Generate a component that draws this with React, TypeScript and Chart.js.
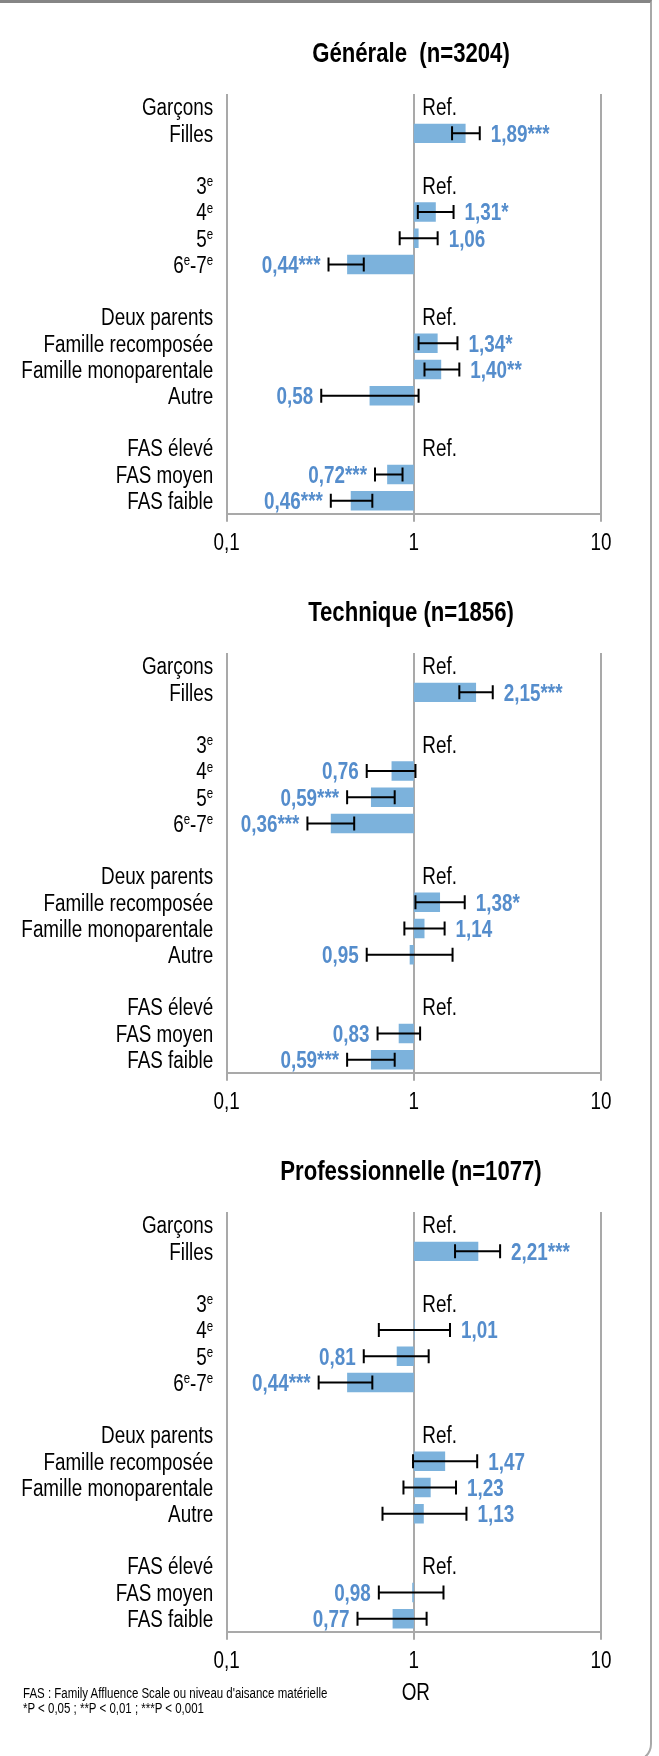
import React, { useEffect, useRef } from "react";
import { Chart, registerables } from "chart.js";

Chart.register(...registerables);

const FONT = '"Liberation Sans", Arial, sans-serif';
const SX = 0.82; // horizontal condensation of the reference's narrow typeface
const BAR_COLOR = "#7cb2dc";
const VALUE_COLOR = "#558dcc";
const GRID_COLOR = "#a9a9a9";

// ---- data ----
const categories = [
  "Garçons", "Filles", "",
  "3ᵉ", "4ᵉ", "5ᵉ", "6ᵉ-7ᵉ", "",
  "Deux parents", "Famille recomposée", "Famille monoparentale", "Autre", "",
  "FAS élevé", "FAS moyen", "FAS faible",
];
const referenceCategories = ["Garçons", "3ᵉ", "Deux parents", "FAS élevé"];
const referenceText = "Ref.";
const xTickValues = [0.1, 1, 10];
const axisTitle = "OR";
const footnotes = [
  "FAS : Family Affluence Scale ou niveau d'aisance matérielle",
  "*P < 0,05 ; **P < 0,01 ; ***P < 0,001",
];

const titleGenerale = "Générale  (n=3204)";
const orGenerale = [null, 1.89, null, null, 1.31, 1.06, 0.44, null, null, 1.34, 1.40, 0.58, null, null, 0.72, 0.46];
const lowGenerale = [null, 1.60, null, null, 1.05, 0.84, 0.35, null, null, 1.06, 1.14, 0.32, null, null, 0.62, 0.36];
const highGenerale = [null, 2.25, null, null, 1.63, 1.34, 0.54, null, null, 1.71, 1.75, 1.06, null, null, 0.87, 0.60];
const sigGenerale = ["", "***", "", "", "*", "", "***", "", "", "*", "**", "", "", "", "***", "***"];

const titleTechnique = "Technique (n=1856)";
const orTechnique = [null, 2.15, null, null, 0.76, 0.59, 0.36, null, null, 1.38, 1.14, 0.95, null, null, 0.83, 0.59];
const lowTechnique = [null, 1.75, null, null, 0.56, 0.44, 0.27, null, null, 1.02, 0.89, 0.56, null, null, 0.64, 0.44];
const highTechnique = [null, 2.64, null, null, 1.02, 0.79, 0.48, null, null, 1.87, 1.46, 1.61, null, null, 1.08, 0.79];
const sigTechnique = ["", "***", "", "", "", "***", "***", "", "", "*", "", "", "", "", "", "***"];

const titlePro = "Professionnelle (n=1077)";
const orPro = [null, 2.21, null, null, 1.01, 0.81, 0.44, null, null, 1.47, 1.23, 1.13, null, null, 0.98, 0.77];
const lowPro = [null, 1.66, null, null, 0.65, 0.54, 0.31, null, null, 0.99, 0.88, 0.68, null, null, 0.65, 0.50];
const highPro = [null, 2.89, null, null, 1.56, 1.20, 0.60, null, null, 2.18, 1.68, 1.91, null, null, 1.44, 1.17];
const sigPro = ["", "***", "", "", "", "", "***", "", "", "", "", "", "", "", "", ""];

type Panel = {
  title: string;
  or: (number | null)[];
  low: (number | null)[];
  high: (number | null)[];
  sig: string[];
  top: number;
  height: number;
  padBottom: number;
  showAxisTitle: boolean;
};

const panels: Panel[] = [
  { title: titleGenerale, or: orGenerale, low: lowGenerale, high: highGenerale, sig: sigGenerale, top: 0, height: 566, padBottom: 0.6, showAxisTitle: false },
  { title: titleTechnique, or: orTechnique, low: lowTechnique, high: highTechnique, sig: sigTechnique, top: 559, height: 566, padBottom: 0.6, showAxisTitle: false },
  { title: titlePro, or: orPro, low: lowPro, high: highPro, sig: sigPro, top: 1118, height: 600, padBottom: 34.6, showAxisTitle: true },
];

const fmt = (v: number, digits?: number) =>
  (digits === undefined ? String(v) : v.toFixed(digits)).replace(".", ",");

function textN(ctx: CanvasRenderingContext2D, text: string, x: number, y: number, align: CanvasTextAlign) {
  ctx.save();
  ctx.translate(x, y);
  ctx.scale(SX, 1);
  ctx.textAlign = align;
  ctx.fillText(text, 0, 0);
  ctx.restore();
}

function drawRichRight(ctx: CanvasRenderingContext2D, text: string, xRight: number, baseline: number, size: number) {
  // 'ᵉ' is rendered as a small raised "e"
  const parts: { t: string; sup: boolean }[] = [];
  for (const ch of text) {
    const sup = ch === "ᵉ";
    const t = sup ? "e" : ch;
    const last = parts[parts.length - 1];
    if (last && last.sup === sup) last.t += t;
    else parts.push({ t, sup });
  }
  const normalFont = `${size}px ${FONT}`;
  const supFont = `${Math.round(size * 0.6)}px ${FONT}`;
  let total = 0;
  for (const p of parts) {
    ctx.font = p.sup ? supFont : normalFont;
    total += ctx.measureText(p.t).width * SX;
  }
  let x = xRight - total;
  for (const p of parts) {
    ctx.font = p.sup ? supFont : normalFont;
    textN(ctx, p.t, x, p.sup ? baseline - size * 0.34 : baseline, "left");
    x += ctx.measureText(p.t).width * SX;
  }
}

function makeForestPlugin(panel: Panel) {
  return {
    id: "forest",
    afterDraw(chart: any) {
      const { ctx, chartArea, scales } = chart;
      const xs = scales.x;
      const ys = scales.y;
      ctx.save();
      ctx.textBaseline = "alphabetic";
      // title
      ctx.fillStyle = "#000";
      ctx.font = `bold 27px ${FONT}`;
      textN(ctx, panel.title, 411, 62, "center");
      // x tick labels (condensed), at the scale's own tick positions
      ctx.font = `23px ${FONT}`;
      ctx.textBaseline = "middle";
      xs.ticks.forEach((t: any) => {
        textN(ctx, fmt(t.value), xs.getPixelForValue(t.value), xs.top + 8 + 8 + 13.8, "center");
      });
      if (panel.showAxisTitle) {
        textN(ctx, axisTitle, (chartArea.left + chartArea.right) / 2 + 2, chartArea.bottom + 61.5, "center");
      }
      ctx.textBaseline = "alphabetic";
      const labelSize = 23;
      const x1 = xs.getPixelForValue(1);
      categories.forEach((cat, i) => {
        const yc = ys.getPixelForValue(i);
        const base = yc + labelSize * 0.36;
        ctx.fillStyle = "#000";
        if (cat) drawRichRight(ctx, cat, chartArea.left - 13.5, base, labelSize);
        if (referenceCategories.includes(cat)) {
          ctx.font = `${labelSize}px ${FONT}`;
          textN(ctx, referenceText, x1 + 8.5, base, "left");
        }
        const v = panel.or[i];
        const lo = panel.low[i];
        const hi = panel.high[i];
        if (v == null || lo == null || hi == null) return;
        const xl = xs.getPixelForValue(lo);
        const xh = xs.getPixelForValue(hi);
        ctx.strokeStyle = "#000";
        ctx.lineWidth = 2;
        ctx.beginPath();
        ctx.moveTo(xl, yc);
        ctx.lineTo(xh, yc);
        ctx.moveTo(xl, yc - 7);
        ctx.lineTo(xl, yc + 7);
        ctx.moveTo(xh, yc - 7);
        ctx.lineTo(xh, yc + 7);
        ctx.stroke();
        const label = fmt(v, 2) + panel.sig[i];
        ctx.fillStyle = VALUE_COLOR;
        ctx.font = `bold 23px ${FONT}`;
        if (v >= 1) textN(ctx, label, xh + 11, base, "left");
        else textN(ctx, label, xl - 8, base, "right");
      });
      ctx.restore();
    },
  };
}

function ForestChart({ panel }: { panel: Panel }) {
  const ref = useRef<HTMLCanvasElement | null>(null);
  useEffect(() => {
    if (!ref.current) return;
    const chart = new Chart(ref.current, {
      type: "bar",
      data: {
        labels: categories,
        datasets: [
          {
            data: panel.or.map((v) => (v == null ? null : [1, v])) as any,
            backgroundColor: BAR_COLOR,
            borderWidth: 0,
            barPercentage: 0.74,
            categoryPercentage: 1,
          },
        ],
      },
      options: {
        indexAxis: "y",
        animation: false,
        responsive: false,
        maintainAspectRatio: false,
        devicePixelRatio: 1,
        layout: { padding: { top: 94, bottom: panel.padBottom, left: 0, right: 58 } },
        plugins: {
          legend: { display: false },
          tooltip: { enabled: false },
          title: { display: false },
        },
        scales: {
          x: {
            type: "logarithmic",
            position: "bottom",
            min: 0.1,
            max: 10,
            afterBuildTicks: (s: any) => {
              s.ticks = xTickValues.map((value) => ({ value }));
            },
            ticks: {
              callback: (v: any) => fmt(Number(v)),
              font: { family: FONT, size: 23 },
              color: "rgba(0,0,0,0)",
              padding: 8,
              maxRotation: 0,
              autoSkip: false,
            },
            grid: { color: GRID_COLOR, lineWidth: 2, tickLength: 8, drawTicks: true },
            border: { display: true, color: GRID_COLOR, width: 2 },
          } as any,
          y: {
            ticks: { display: false },
            grid: { display: false },
            border: { display: false },
            afterFit: (s: any) => {
              s.width = 226.7;
            },
          },
        },
      },
      plugins: [makeForestPlugin(panel)],
    });
    return () => chart.destroy();
  }, [panel]);
  return (
    <canvas
      ref={ref}
      width={659}
      height={panel.height}
      style={{ position: "absolute", left: 0, top: panel.top, width: 659, height: panel.height }}
    />
  );
}

export default function App() {
  return (
    <div style={{ position: "absolute", left: 0, top: 0, width: 659, height: 1756, overflow: "hidden", background: "#fff" }}>
      <div
        style={{
          position: "absolute",
          left: -20,
          top: 0,
          width: 672,
          height: 1762,
          boxSizing: "border-box",
          borderTop: "3px solid #858585",
          borderRight: "2px solid #a8a8a8",
          borderBottom: "2px solid #a8a8a8",
          borderLeft: "2px solid #a8a8a8",
          borderBottomRightRadius: 18,
        }}
      />
      {panels.map((p, i) => (
        <ForestChart key={i} panel={p} />
      ))}
      <div
        style={{
          position: "absolute",
          left: 22.7,
          top: 1685.5,
          fontFamily: FONT,
          fontSize: 14,
          lineHeight: "15px",
          color: "#000",
          whiteSpace: "nowrap",
          transform: `scaleX(${SX})`,
          transformOrigin: "0 0",
        }}
      >
        {footnotes.map((f, i) => (
          <div key={i}>{f}</div>
        ))}
      </div>
    </div>
  );
}
